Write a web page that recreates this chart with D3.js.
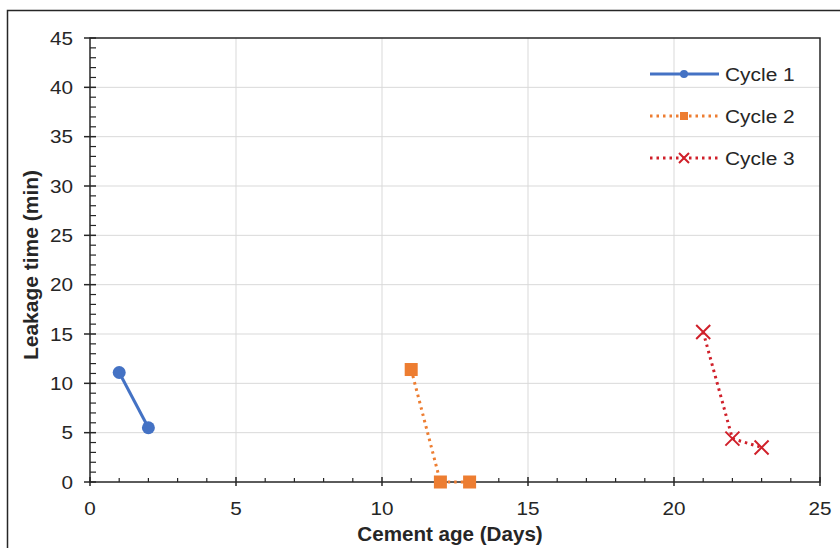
<!DOCTYPE html>
<html>
<head>
<meta charset="utf-8">
<script src="https://cdn.jsdelivr.net/npm/d3@7"></script>
<style>
  body { margin: 0; background: #fff; }
  svg { font-family: "Liberation Sans", Arial, sans-serif; }
</style>
</head>
<body>
<div id="chart"></div>
<script>
const seriesNames = ['Cycle 1', 'Cycle 2', 'Cycle 3']
const cycle1X = [1, 2]
const cycle1Y = [11.1, 5.5]
const cycle2X = [11, 12, 13]
const cycle2Y = [11.4, 0, 0]
const cycle3X = [21, 22, 23]
const cycle3Y = [15.2, 4.4, 3.5]
const xTicks = [0, 5, 10, 15, 20, 25]
const yTicks = [0, 5, 10, 15, 20, 25, 30, 35, 40, 45]

const W = 840, H = 548
const m = { left: 90, top: 38, right: 20, bottom: 66 }
const ink = '#262626'

const svg = d3.select('#chart').append('svg')
    .attr('width', W).attr('height', H)

// outer frame
svg.append('rect')
    .attr('x', 7.5).attr('y', 10.5)
    .attr('width', 845).attr('height', 560)
    .attr('fill', 'none').attr('stroke', ink).attr('stroke-width', 1.5)

const x = d3.scaleLinear().domain([0, 25]).range([m.left, W - m.right])
const y = d3.scaleLinear().domain([0, 45]).range([H - m.bottom, m.top])

const g = svg.append('g')

// text is a bit wide in the original, stretch it sideways
const addText = (sel, tx, ty, txt, size, anchor, sx, bold) => {
    return sel.append('text')
        .attr('transform', 'translate(' + tx + ',' + ty + ') scale(' + sx + ',1)')
        .attr('text-anchor', anchor)
        .attr('font-size', size + 'px')
        .attr('font-weight', bold ? 'bold' : 'normal')
        .attr('fill', ink)
        .text(txt)
}

// grid
g.selectAll('.gy').data(yTicks.slice(1, -1)).enter().append('line')
    .attr('x1', x(0)).attr('x2', x(25))
    .attr('y1', d => y(d)).attr('y2', d => y(d))
    .attr('stroke', '#d9d9d9').attr('stroke-width', 1)
g.selectAll('.gx').data(xTicks.slice(1, -1)).enter().append('line')
    .attr('y1', y(0)).attr('y2', y(45))
    .attr('x1', d => x(d)).attr('x2', d => x(d))
    .attr('stroke', '#d9d9d9').attr('stroke-width', 1)

// plot box
g.append('rect')
    .attr('x', x(0)).attr('y', y(45))
    .attr('width', x(25) - x(0)).attr('height', y(0) - y(45))
    .attr('fill', 'none').attr('stroke', ink).attr('stroke-width', 1.5)

// minor ticks
const xMinor = d3.range(0, 26).filter(d => d % 5 != 0)
const yMinor = d3.range(0, 46).filter(d => d % 5 != 0)
g.selectAll('.mx').data(xMinor).enter().append('line')
    .attr('x1', d => x(d)).attr('x2', d => x(d))
    .attr('y1', y(0)).attr('y2', y(0) - 4)
    .attr('stroke', ink).attr('stroke-width', 1.2)
g.selectAll('.my').data(yMinor).enter().append('line')
    .attr('y1', d => y(d)).attr('y2', d => y(d))
    .attr('x1', x(0)).attr('x2', x(0) + 6)
    .attr('stroke', ink).attr('stroke-width', 1.2)

// major ticks
g.selectAll('.Mx').data(xTicks).enter().append('line')
    .attr('x1', d => x(d)).attr('x2', d => x(d))
    .attr('y1', y(0) - 5).attr('y2', y(0) + 4)
    .attr('stroke', ink).attr('stroke-width', 1.5)
g.selectAll('.My').data(yTicks).enter().append('line')
    .attr('y1', d => y(d)).attr('y2', d => y(d))
    .attr('x1', x(0) - 6).attr('x2', x(0) + 6)
    .attr('stroke', ink).attr('stroke-width', 1.5)

// tick labels
xTicks.forEach(d => addText(g, x(d), y(0) + 33, d, 18, 'middle', 1.15))
yTicks.forEach(d => addText(g, x(0) - 17, y(d) + 6.5, d, 18, 'end', 1.15))

// axis titles
addText(svg, 450, 541, 'Cement age (Days)', 20, 'middle', 1.03, true)
svg.append('text')
    .attr('transform', 'translate(38,265) rotate(-90) scale(1.05,1)')
    .attr('text-anchor', 'middle').attr('font-size', '20px').attr('font-weight', 'bold')
    .attr('fill', ink)
    .text('Leakage time (min)')

const series = [
    { name: seriesNames[0], xs: cycle1X, ys: cycle1Y, color: '#4472c4', dash: null, marker: 'circle' },
    { name: seriesNames[1], xs: cycle2X, ys: cycle2Y, color: '#ed7d31', dash: '2.5,4', marker: 'square' },
    { name: seriesNames[2], xs: cycle3X, ys: cycle3Y, color: '#d0202a', dash: '2.5,4', marker: 'cross' }
]

const line = d3.line().x(d => x(d[0])).y(d => y(d[1]))

function drawMarker(sel, type, color, size) {
    if (type == 'circle') {
        sel.append('circle').attr('r', size / 2).attr('fill', color)
    } else if (type == 'square') {
        sel.append('rect').attr('x', -size / 2).attr('y', -size / 2)
            .attr('width', size).attr('height', size).attr('fill', color)
    } else {
        const h = size / 2
        sel.append('path').attr('d', `M${-h},${-h}L${h},${h}M${-h},${h}L${h},${-h}`)
            .attr('stroke', color).attr('stroke-width', 2).attr('fill', 'none')
    }
}

series.forEach(s => {
    const pts = s.xs.map((v, i) => [v, s.ys[i]])
    g.append('path').datum(pts)
        .attr('d', line)
        .attr('fill', 'none')
        .attr('stroke', s.color)
        .attr('stroke-width', 3)
        .attr('stroke-dasharray', s.dash)
    pts.forEach(p => {
        const mk = g.append('g').attr('transform', 'translate(' + x(p[0]) + ',' + y(p[1]) + ')')
        drawMarker(mk, s.marker, s.color, s.marker == 'cross' ? 14 : 13)
    })
})

// legend
const legend = svg.append('g')
series.forEach((s, i) => {
    const ly = 74 + i * 42
    legend.append('line')
        .attr('x1', 650).attr('x2', 719).attr('y1', ly).attr('y2', ly)
        .attr('stroke', s.color).attr('stroke-width', 3)
        .attr('stroke-dasharray', s.dash)
    const mk = legend.append('g').attr('transform', 'translate(684,' + ly + ')')
    drawMarker(mk, s.marker, s.color, s.marker == 'cross' ? 10 : 8)
    addText(legend, 725, ly + 7, s.name, 19, 'start', 1.1)
})
</script>
</body>
</html>
